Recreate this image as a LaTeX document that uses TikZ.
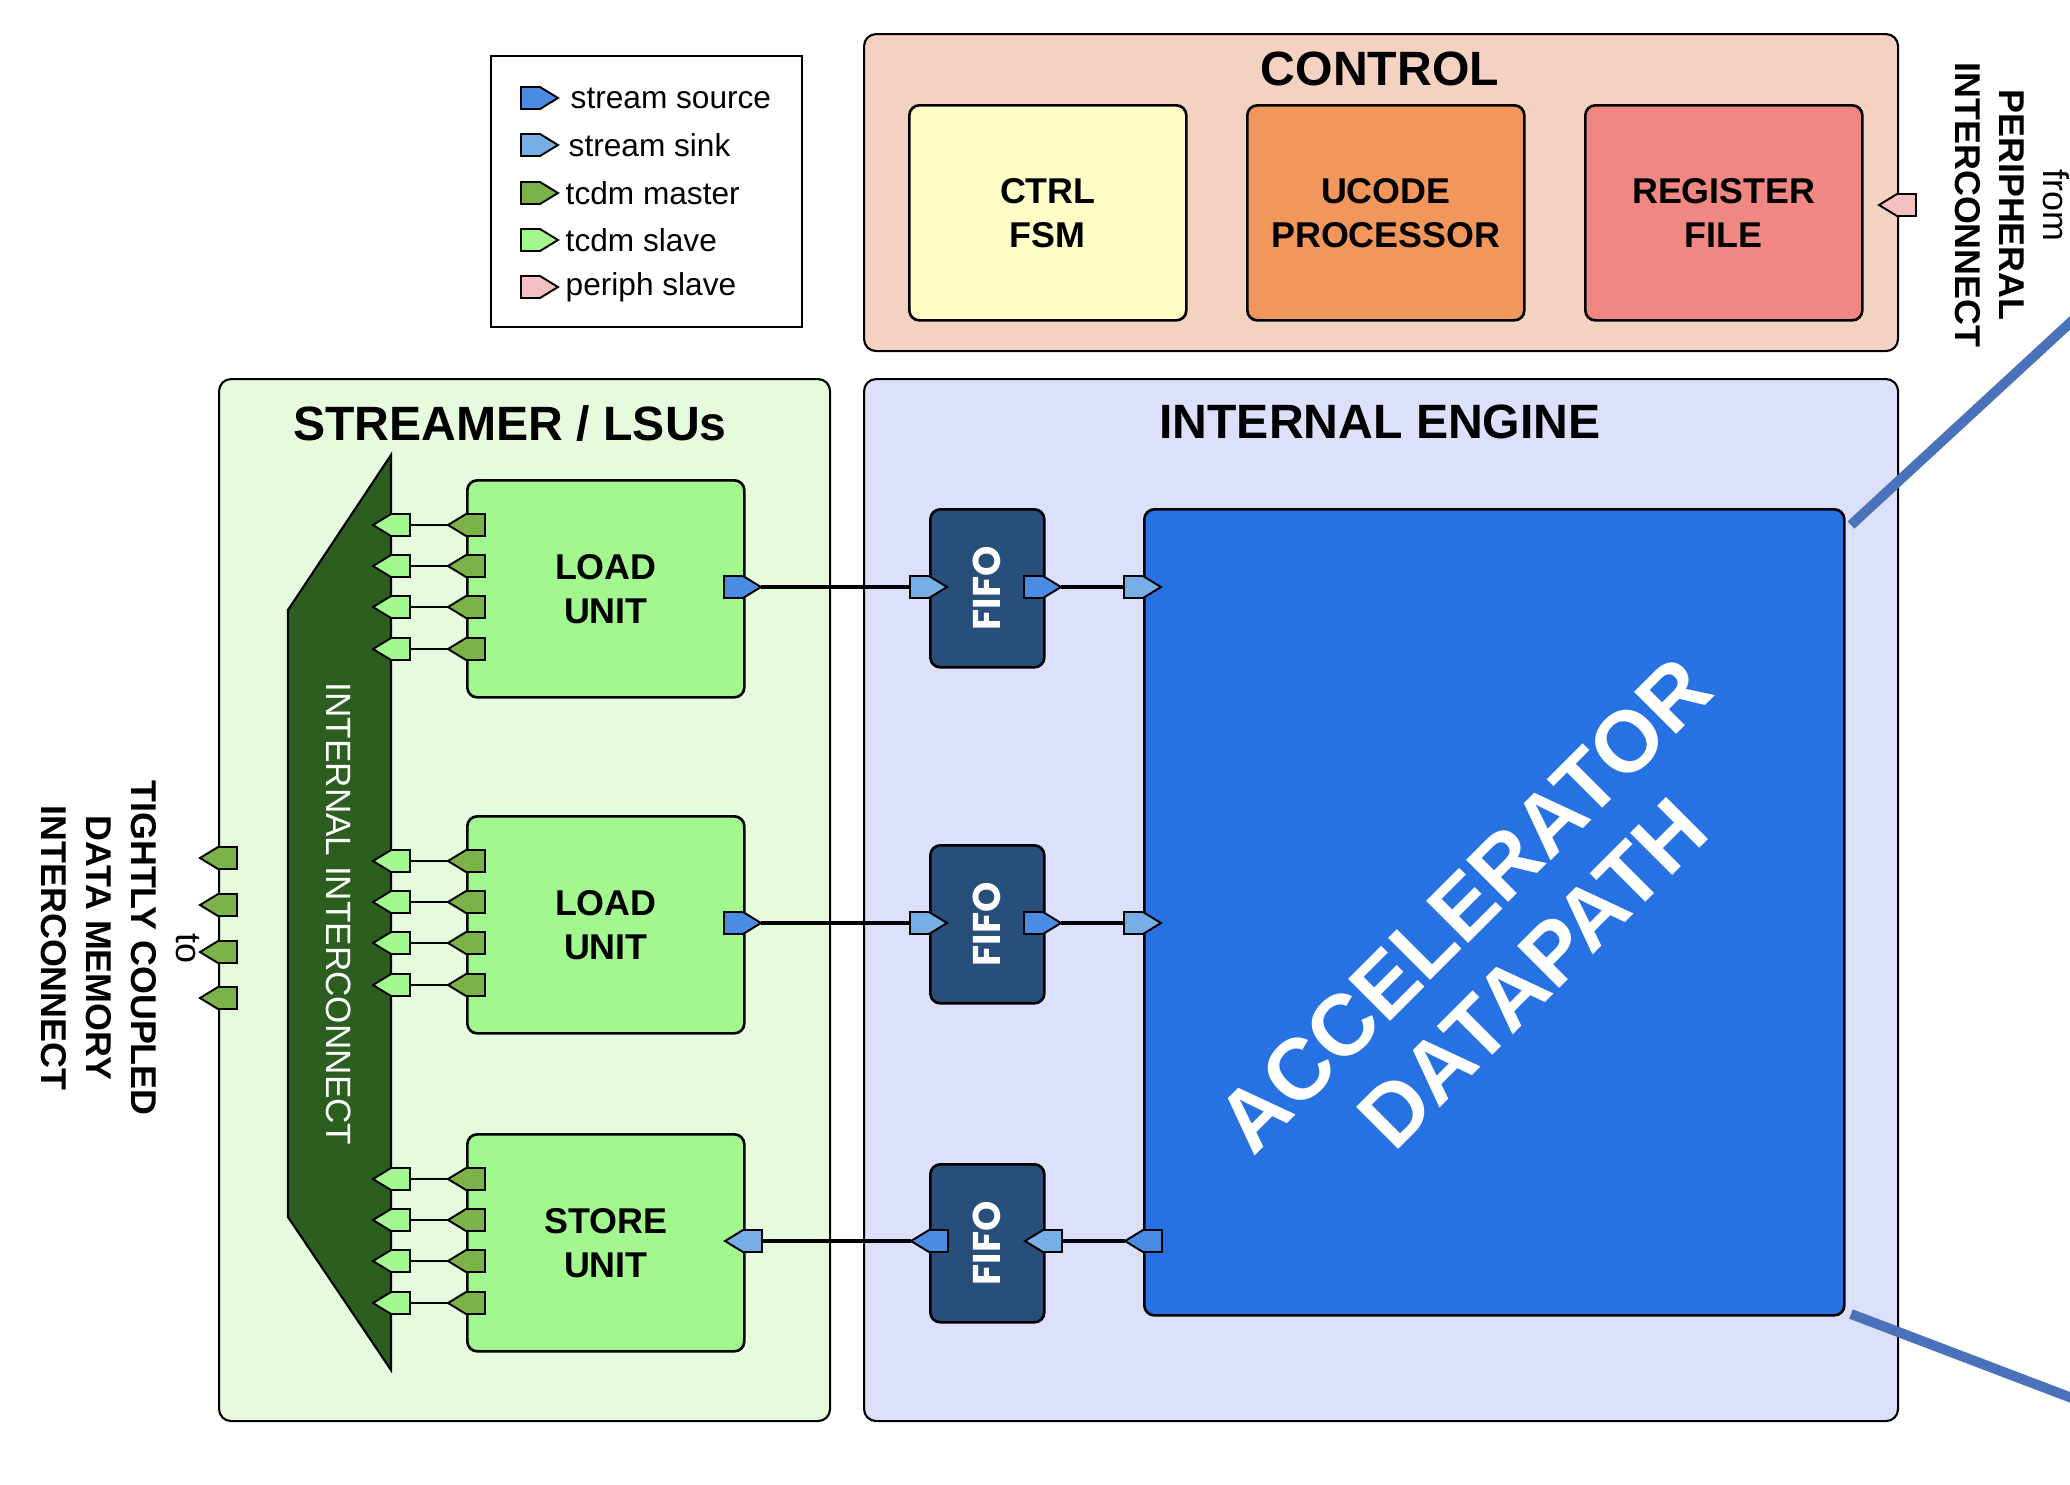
\documentclass[tikz,border=0pt]{standalone}
\usepackage{fontspec}
\setmainfont{Liberation Sans}
\newfontfamily\fifofont{Poppins}
\definecolor{ctrlbg}{HTML}{F4D2C2}
\definecolor{fsmc}{HTML}{FEFEC6}
\definecolor{ucodec}{HTML}{F2975B}
\definecolor{regc}{HTML}{F08783}
\definecolor{strbg}{HTML}{E6FADE}
\definecolor{luc}{HTML}{A2F88E}
\definecolor{iconc}{HTML}{2C5E1F}
\definecolor{tmaster}{HTML}{7BB24A}
\definecolor{tslave}{HTML}{A2F88E}
\definecolor{engbg}{HTML}{DCE0FA}
\definecolor{fifoc}{HTML}{284E7A}
\definecolor{accc}{HTML}{2772E3}
\definecolor{ssrc}{HTML}{4A8BE3}
\definecolor{ssnk}{HTML}{78AEE6}
\definecolor{pslave}{HTML}{F5C0C1}
\definecolor{diagc}{HTML}{4A72BB}
\tikzset{
  outerbox/.style={draw=black, line width=0.6pt, rounded corners=1.2mm, inner sep=0pt, anchor=north west},
  innerbox/.style={draw=black, line width=0.75pt, rounded corners=1mm, inner sep=0pt, anchor=north west},
  ctrlblk/.style={innerbox, minimum width=27.7mm, minimum height=21.5mm, boxtxt},
  unitblk/.style={innerbox, fill=luc, minimum width=27.7mm, minimum height=21.7mm, boxtxt},
  fifoblk/.style={innerbox, fill=fifoc, minimum width=11.4mm, minimum height=15.8mm},
  boxtxt/.style={font=\fontsize{10.2}{12.6}\selectfont\bfseries, align=center},
  titletxt/.style={font=\fontsize{13.7}{16}\selectfont\bfseries, inner sep=0pt},
  fifotxt/.style={font=\fifofont\fontsize{11}{13}\selectfont\bfseries, text=white, rotate=90, inner sep=0pt},
  legtxt/.style={font=\fontsize{9}{11}\selectfont, anchor=west, inner sep=0pt},
  portline/.style={draw=black, line width=0.55pt, line join=miter},
  conn/.style={draw=black, line width=1pt},
  tconn/.style={draw=black, line width=0.6pt},
  zoomline/.style={draw=diagc, line width=2.85pt},
}
\newcommand{\mkport}[5]{%
  \begin{scope}[shift={(#1,#2)}, xscale=#3]
    \draw[portline, fill=#4] (-19,-11) -- (0,-11) -- (18,0) -- (0,11) -- (-19,11) -- cycle;
    \coordinate (#5-tip) at (18,0);
    \coordinate (#5-back) at (-19,0);
  \end{scope}}
\begin{document}
\begin{tikzpicture}[x=0.1mm, y=-0.1mm]
\useasboundingbox (0,0) rectangle (2070,1484);
\clip (0,0) rectangle (2070,1484);

% ---------- CONTROL ----------
\node[outerbox, fill=ctrlbg, minimum width=103.4mm, minimum height=31.7mm] (control) at (863,33) {};
\node[titletxt] (controlt) at (1380,69) {CONTROL};
\node[ctrlblk, fill=fsmc] (fsm) at (908,104) {CTRL\\FSM};
\node[ctrlblk, fill=ucodec] (ucode) at (1246,104) {UCODE\\PROCESSOR};
\node[ctrlblk, fill=regc] (regf) at (1584,104) {REGISTER\\FILE};
\mkport{1897}{205}{-1}{pslave}{per}
\node[rotate=-90, align=center, font=\fontsize{10.2}{12.5}\selectfont\bfseries] (pertxt) at (2012,205) {{\mdseries from}\\PERIPHERAL\\INTERCONNECT};

% ---------- LEGEND ----------
\node[draw=black, line width=0.6pt, fill=white, minimum width=31.1mm, minimum height=27.1mm, anchor=north west, inner sep=0pt] (legend) at (490,55) {};
\mkport{540}{98}{1}{ssrc}{lg1}
\mkport{540}{145}{1}{ssnk}{lg2}
\mkport{540}{193}{1}{tmaster}{lg3}
\mkport{540}{240}{1}{tslave}{lg4}
\mkport{540}{287}{1}{pslave}{lg5}
\node[legtxt] (lt1) at (570,98) {stream source};
\node[legtxt] (lt2) at (568,145) {stream sink};
\node[legtxt] (lt3) at (565,193) {tcdm master};
\node[legtxt] (lt4) at (565,240) {tcdm slave};
\node[legtxt] (lt5) at (565,287) {periph slave};

% ---------- STREAMER ----------
\node[outerbox, fill=strbg, minimum width=61.1mm, minimum height=104.2mm] (streamer) at (218,378) {};
\node[titletxt] (streamert) at (510,424) {STREAMER / LSUs};

% ---------- ENGINE ----------
\node[outerbox, fill=engbg, minimum width=103.4mm, minimum height=104.2mm] (engine) at (863,378) {};
\node[titletxt] (enginet) at (1380,422) {INTERNAL ENGINE};

% internal interconnect
\coordinate (ic1) at (391,455);
\coordinate (ic2) at (288,610);
\coordinate (ic3) at (288,1217);
\coordinate (ic4) at (391,1370);
\draw[draw=black, line width=0.6pt, fill=iconc] (ic1) -- (ic2) -- (ic3) -- (ic4) -- cycle;
\node[rotate=-90, text=white, font=\fontsize{10}{12}\selectfont] (ictxt) at (339,914) {INTERNAL INTERCONNECT};

% units
\node[unitblk] (lu1) at (466,479) {LOAD\\UNIT};
\node[unitblk] (lu2) at (466,815) {LOAD\\UNIT};
\node[unitblk] (su) at (466,1133) {STORE\\UNIT};

% fifos
\node[fifoblk] (fifo1) at (929,508) {};
\node[fifoblk] (fifo2) at (929,844) {};
\node[fifoblk] (fifo3) at (929,1163) {};
\node[fifotxt] (fifo1t) at (fifo1.center) {FIFO};
\node[fifotxt] (fifo2t) at (fifo2.center) {FIFO};
\node[fifotxt] (fifo3t) at (fifo3.center) {FIFO};

% accelerator
\node[innerbox, fill=accc, minimum width=70mm, minimum height=80.6mm] (acc) at (1143,508) {};
\node[rotate=45, text=white, font=\fontsize{24.6}{27.5}\selectfont\bfseries, align=center] (acctxt) at (1498,939) {ACCELERATOR\\DATAPATH};

% external tcdm ports
\foreach \k/\yy in {1/858,2/905,3/952,4/998}{\mkport{218}{\yy}{-1}{tmaster}{ext\k}}
\node[rotate=-90, align=center, font=\fontsize{10.2}{12.8}\selectfont\bfseries] (tcdmtxt) at (120,948) {{\mdseries to}\\TIGHTLY COUPLED\\DATA MEMORY\\INTERCONNECT};

% tcdm ports between units and interconnect
\foreach \u/\t in {lu1/479,lu2/815,su/1133}{
  \foreach \k/\o in {1/46,2/87,3/128,4/170}{
    \pgfmathtruncatemacro{\yy}{\t+\o}
    \mkport{466}{\yy}{-1}{tmaster}{\u m\k}
    \mkport{391}{\yy}{-1}{tslave}{\u s\k}
    \draw[tconn] (\u m\k-tip) -- (\u s\k-back);
  }
}

% stream ports
\mkport{743}{587}{1}{ssrc}{lu1o}
\mkport{929}{587}{1}{ssnk}{f1i}
\mkport{1043}{587}{1}{ssrc}{f1o}
\mkport{1143}{587}{1}{ssnk}{a1i}
\mkport{743}{923}{1}{ssrc}{lu2o}
\mkport{929}{923}{1}{ssnk}{f2i}
\mkport{1043}{923}{1}{ssrc}{f2o}
\mkport{1143}{923}{1}{ssnk}{a2i}
\mkport{743}{1241}{-1}{ssnk}{sui}
\mkport{929}{1241}{-1}{ssrc}{f3o}
\mkport{1043}{1241}{-1}{ssnk}{f3i}
\mkport{1143}{1241}{-1}{ssrc}{a3o}

\draw[conn] (lu1o-tip) -- (f1i-back);
\draw[conn] (f1o-tip) -- (a1i-back);
\draw[conn] (lu2o-tip) -- (f2i-back);
\draw[conn] (f2o-tip) -- (a2i-back);
\draw[conn] (a3o-tip) -- (f3i-back);
\draw[conn] (f3o-tip) -- (sui-back);

% zoom lines
\coordinate (zt0) at (1851,525);
\coordinate (zt1) at (2085,309);
\coordinate (zb0) at (1851,1314);
\coordinate (zb1) at (2085,1403);
\draw[zoomline] (zt0) -- (zt1);
\draw[zoomline] (zb0) -- (zb1);
\end{tikzpicture}
\end{document}
